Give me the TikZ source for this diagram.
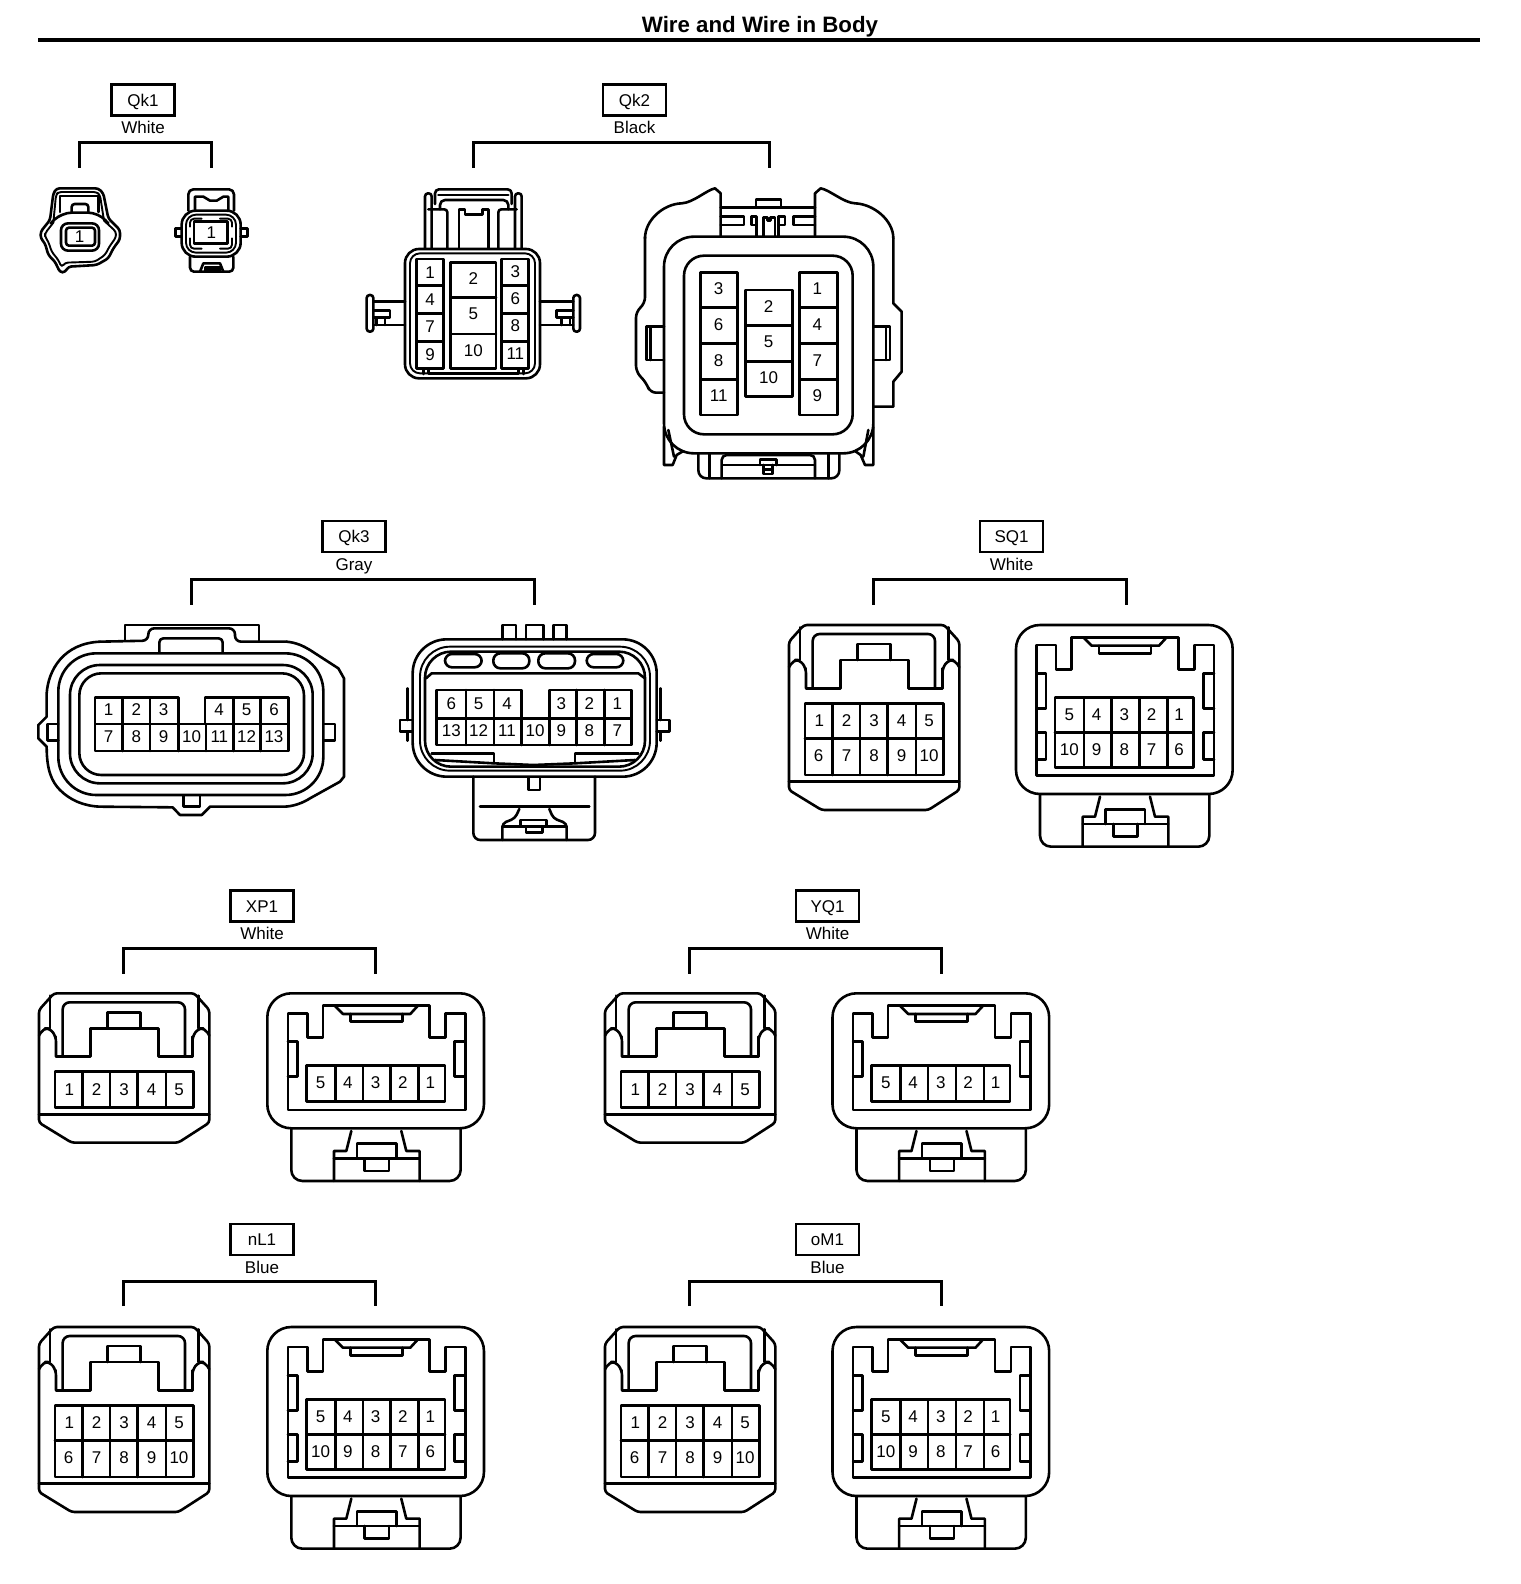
\documentclass[tikz,border=0pt]{standalone}
\usepackage{fontspec}
\setmainfont{Liberation Sans}
\newcounter{pn}
\tikzset{
  ln/.style={line width=2.6pt,line join=round,line cap=round},
  thinln/.style={line width=1.9pt,line join=round,line cap=round},
  zoomed/.style={x=0.33333pt,y=-0.33333pt},
  pintext/.style={inner sep=0pt,font=\fontsize{17}{17}\selectfont},
  tagbox/.style={draw,line width=2.6pt,minimum width=63pt,minimum height=31pt,inner sep=0pt,text height=12.2pt,text depth=0pt,font=\fontsize{17}{17}\selectfont},
  coltext/.style={inner sep=0pt,text height=12.2pt,text depth=0pt,font=\fontsize{17}{17}\selectfont},
  bracket/.style={line width=3pt,line join=miter},
}
\newcommand\pinlab[3]{\stepcounter{pn}\node[pintext] (pin\thepn) at (#1,#2) {#3};}
% label block: name, text, colour, cx, box y, left x, right x, bar y
\newcommand\tagblock[8]{%
  \node[tagbox] (#1) at (#4,#5) {#2};
  \node[coltext] (#1c) at (#4,#5+27.5) {#3};
  \coordinate (#1m) at (#4,#8);
  \coordinate (#1l) at (#6,#8+25);
  \coordinate (#1r) at (#7,#8+25);
  \draw[bracket] (#1l) |- (#1m) -| (#1r);
}
% type A connector
\newcommand\ConA[3]{%
\begin{scope}[shift={(#1,#2)},zoomed]
  \ifnum#3=1 \def\S{107}\else\def\S{0}\fi
  \draw[ln,rounded corners=3pt] (27,95) -- (72,45) -- (493,45) -- (538,95) -- (538,{540-\S}) -- (445,{600-\S}) -- (125,{600-\S}) -- (27,{540-\S}) -- cycle;
  \draw[ln] (27,{515-\S}) -- (538,{515-\S});
  \draw[ln,rounded corners=5pt] (27,172) -- (40,150) -- (60,150) -- (78,175) -- (78,235);
  \draw[ln] (78,175) -- (78,235) -- (182,235) -- (182,150) -- (385,150) -- (385,235) -- (487,235) -- (487,175);
  \draw[ln,rounded corners=5pt] (487,235) -- (487,175) -- (505,150) -- (525,150) -- (538,172);
  \draw[ln] (60,52) -- (60,150) (505,52) -- (505,150);
  \draw[ln,rounded corners=7pt] (98,235) -- (98,72) -- (465,72) -- (465,235);
  \draw[ln] (232,150) -- (232,102) -- (332,102) -- (332,150);
  \draw[ln] (75,280) rectangle (490,{495-\S});
  \foreach \x in {158,240,323,408} \draw[ln] (\x,280) -- (\x,{495-\S});
  \foreach \x/\t in {118,200/2,282/3,365/4,447/5} {}
  \foreach \x/\t in {118/1,200/2,282/3,365/4,447/5} \pinlab{\x}{333}{\t};
  \ifnum#3=2
    \draw[ln] (75,385) -- (490,385);
    \foreach \x/\t in {116/6,200/7,282/8,365/9,447/10} \pinlab{\x}{438}{\t};
  \fi
\end{scope}}
% type B connector
\newcommand\ConB[3]{%
\begin{scope}[shift={(#1,#2)},zoomed]
  \ifnum#3=1 \def\S{102}\else\def\S{0}\fi
  \draw[ln,rounded corners=24pt] (708,45) rectangle (1358,{552-\S});
  \draw[ln] (770,105) -- (828,105) -- (828,178) -- (875,178) -- (875,82) -- (1195,82) -- (1195,178) -- (1243,178) -- (1243,105) -- (1302,105) -- (1302,{497-\S}) -- (770,{497-\S}) -- cycle;
  \draw[ln] (910,82) -- (935,107) -- (1137,107) -- (1160,82);
  \draw[ln] (957,107) -- (957,130) -- (1113,130) -- (1113,107);
  \draw[ln] (770,190) -- (798,190) -- (798,295) -- (770,295);
  \draw[ln] (1302,190) -- (1270,190) -- (1270,295) -- (1302,295);
  \draw[ln] (825,262) rectangle (1241,{472-\S});
  \foreach \x in {912,995,1078,1162} \draw[ln] (\x,262) -- (\x,{472-\S});
  \foreach \x/\t in {868/5,950/4,1033/3,1115/2,1197/1} \pinlab{\x}{313}{\t};
  \ifnum#3=2
    \draw[ln] (825,367) -- (1241,367);
    \draw[ln] (770,368) -- (798,368) -- (798,448) -- (770,448);
    \draw[ln] (1302,368) -- (1270,368) -- (1270,448) -- (1302,448);
    \foreach \x/\t in {868/10,950/9,1033/8,1115/7,1197/6} \pinlab{\x}{418}{\t};
  \fi
  \draw[ln,rounded corners=11pt] (780,{555-\S}) -- (780,{710-\S}) -- (1288,{710-\S}) -- (1288,{555-\S});
  \draw[ln] (960,{560-\S}) -- (945,{620-\S}) -- (908,{620-\S}) -- (908,{710-\S});
  \draw[ln] (1110,{560-\S}) -- (1125,{620-\S}) -- (1165,{620-\S}) -- (1165,{710-\S});
  \draw[ln] (908,{642-\S}) -- (1165,{642-\S});
  \draw[ln] (977,{642-\S}) -- (977,{598-\S}) -- (1095,{598-\S}) -- (1095,{642-\S});
  \draw[ln] (1000,{642-\S}) -- (1000,{680-\S}) -- (1073,{680-\S}) -- (1073,{642-\S});
\end{scope}}
\begin{document}
\begin{tikzpicture}[x=1pt,y=-1pt]
\path[use as bounding box,fill=white] (0,0) rectangle (1520,1584);
% title
\node[inner sep=0pt,font=\bfseries\fontsize{22.3}{23}\selectfont] (title) at (760,26.5) {Wire and Wire in Body};
\coordinate (ruleL) at (38,40);
\coordinate (ruleR) at (1480,40);
\draw[line width=4pt] (ruleL) -- (ruleR);
% labels and brackets
\tagblock{qka}{Qk1}{White}{143}{100}{79}{211}{142.5}
\tagblock{qkb}{Qk2}{Black}{634.5}{100}{473}{769.5}{142.5}
\tagblock{qkc}{Qk3}{Gray}{354}{536.5}{191}{534.5}{579.5}
\tagblock{sqa}{SQ1}{White}{1011.5}{536.5}{873.5}{1126}{579.5}
\tagblock{xpa}{XP1}{White}{262}{906}{123}{375.5}{948.5}
\tagblock{yqa}{YQ1}{White}{827.5}{906}{689.5}{941.5}{948.5}
\tagblock{nla}{nL1}{Blue}{262}{1239.5}{123}{375.5}{1281}
\tagblock{oma}{oM1}{Blue}{827.5}{1239.5}{689.5}{941.5}{1281}
% Qk1 left
\begin{scope}[shift={(30,180)},zoomed]
  \draw[ln,rounded corners=3pt] (80,25) -- (205,25) -- (220,40) -- (235,115) -- (270,150) -- (270,178) -- (250,205) -- (235,235) -- (200,255) -- (115,260) -- (105,277) -- (90,277) -- (75,245) -- (55,225) -- (45,190) -- (32,175) -- (32,155) -- (60,120) -- (70,40) -- cycle;
  \draw[thinln,rounded corners=3pt] (222,122) -- (258,155) -- (258,172) -- (238,200) -- (225,225) -- (195,245) -- (105,248) -- (95,262) -- (85,240) -- (65,215) -- (55,185) -- (45,170) -- (45,160) -- (70,128);
  \draw[thinln,rounded corners=3pt] (70,128) -- (78,45) -- (85,36) -- (200,36) -- (210,45) -- (222,122);
  \draw[ln,rounded corners=10pt] (62,130) -- (95,98) -- (205,98) -- (235,130);
  \draw[ln] (90,96) -- (90,48) -- (205,48) -- (205,96);
  \draw[ln,rounded corners=3pt] (125,96) -- (125,72) -- (175,72) -- (175,96);
  \draw[ln,rounded corners=7pt] (93,130) rectangle (207,212);
  \draw[ln,rounded corners=3pt] (108,143) rectangle (195,197);
  \pinlab{149}{170}{1}
\end{scope}
% Qk1 right
\begin{scope}[shift={(170,180)},zoomed]
  \draw[ln,rounded corners=5pt] (55,92) -- (55,28) -- (192,28) -- (192,92);
  \draw[ln] (75,90) -- (75,50) -- (100,50) -- (120,62) -- (140,62) -- (160,50) -- (175,50) -- (175,90);
  \draw[ln,rounded corners=14pt] (35,92) rectangle (212,230);
  \draw[thinln,rounded corners=10pt] (48,104) rectangle (198,218);
  \draw[thinln,rounded corners=4pt] (60,140) -- (60,116) -- (95,116);
  \draw[thinln,rounded corners=4pt] (150,116) -- (186,116) -- (186,140);
  \draw[thinln,rounded corners=4pt] (60,175) -- (60,206) -- (95,206);
  \draw[thinln,rounded corners=4pt] (150,206) -- (186,206) -- (186,175);
  \draw[ln] (72,125) rectangle (172,190);
  \draw[ln] (35,145) -- (17,145) -- (17,170) -- (35,170);
  \draw[ln] (212,145) -- (232,145) -- (232,170) -- (212,170);
  \draw[ln,rounded corners=4pt] (60,230) -- (60,275) -- (190,275) -- (190,230);
  \draw[ln] (90,275) -- (100,250) -- (150,250) -- (160,275);
  \draw[ln,fill=black] (105,263) rectangle (150,272);
  \pinlab{124}{157}{1}
\end{scope}
% Qk2 left
\begin{scope}[shift={(360,180)},zoomed]
  \draw[ln,rounded corners=3pt] (195,205) -- (195,40) -- (215,40) -- (215,205);
  \draw[ln,rounded corners=3pt] (465,205) -- (465,40) -- (485,40) -- (485,205);
  \draw[ln,rounded corners=4pt] (225,72) -- (225,28) -- (455,28) -- (455,72);
  \draw[ln] (235,45) -- (445,45);
  \draw[ln,rounded corners=5pt] (240,88) -- (240,60) -- (445,60) -- (445,88);
  \draw[ln,rounded corners=3pt] (205,88) -- (262,88) -- (262,205);
  \draw[ln,rounded corners=3pt] (415,205) -- (415,88) -- (470,88);
  \draw[ln] (297,205) -- (297,88) -- (315,88) -- (315,103) -- (367,103) -- (367,88) -- (385,88) -- (385,205);
  \draw[ln,rounded corners=14pt] (135,207) rectangle (540,595);
  \draw[thinln,rounded corners=10pt] (150,220) rectangle (525,580);
  \draw[ln] (170,237) rectangle (250,565);
  \foreach \y in {317,400,485} \draw[ln] (170,\y) -- (250,\y);
  \draw[ln] (272,247) rectangle (408,565);
  \foreach \y in {352,462} \draw[ln] (272,\y) -- (408,\y);
  \draw[ln] (425,237) rectangle (505,565);
  \foreach \y in {317,400,485} \draw[ln] (425,\y) -- (505,\y);
  \draw[ln] (190,565) -- (190,582) (205,565) -- (205,580) -- (475,580) -- (475,565) (490,565) -- (490,582);
  \draw[ln,rounded corners=3pt] (20,345) rectangle (40,455);
  \draw[ln] (40,365) -- (135,365) (40,435) -- (135,435);
  \draw[ln] (40,392) -- (90,392) -- (90,412) -- (40,412) (50,412) -- (50,435) (75,412) -- (75,435);
  \draw[ln,rounded corners=3pt] (640,345) rectangle (660,455);
  \draw[ln] (540,365) -- (640,365) (540,435) -- (640,435);
  \draw[ln] (640,392) -- (590,392) -- (590,412) -- (640,412) (605,412) -- (605,435) (630,412) -- (630,435);
  \foreach \y/\t in {277/1,358/4,440/7,523/9} \pinlab{210}{\y}{\t};
  \foreach \y/\t in {274/3,356/6,438/8,522/11} \pinlab{466}{\y}{\t};
  \foreach \y/\t in {296/2,402/5,512/10} \pinlab{340}{\y}{\t};
\end{scope}
% Qk2 right
\begin{scope}[shift={(600,170)},zoomed]
  \draw[ln,rounded corners=6pt] (192,668) -- (150,668) -- (140,640) -- (108,605) -- (108,425) -- (135,400) -- (135,200);
  \draw[ln] (135,205) .. controls (135,150) and (190,102) .. (245,100) .. controls (280,98) and (320,60) .. (345,55) -- (362,70) -- (362,197);
  \draw[ln] (645,197) -- (645,70) -- (662,55) .. controls (690,60) and (730,98) .. (765,100) .. controls (820,102) and (880,150) .. (880,205);
  \draw[ln] (880,205) -- (880,400) -- (905,425) -- (905,605) -- (880,635) -- (880,710) -- (820,710);
  \draw[ln] (192,470) -- (140,470) -- (140,570) -- (192,570) (152,470) -- (152,570);
  \draw[ln] (820,470) -- (870,470) -- (870,570) -- (820,570) (858,470) -- (858,570);
  \draw[ln] (362,112) -- (645,112);
  \draw[ln] (362,140) -- (432,140) -- (432,165) -- (362,165);
  \draw[ln] (645,140) -- (580,140) -- (580,165) -- (645,165);
  \draw[ln] (468,112) -- (468,88) -- (543,88) -- (543,112);
  \draw[ln] (470,197) -- (470,140) -- (455,140) -- (455,165) -- (470,165);
  \draw[ln] (535,197) -- (535,140) -- (555,140) -- (555,165) -- (535,165);
  \draw[ln] (490,197) -- (490,142) -- (502,142) -- (502,152) -- (512,152) -- (512,142) -- (525,142) -- (525,197);
  \draw[ln,rounded corners=30pt] (192,200) rectangle (820,850);
  \draw[ln,rounded corners=20pt] (252,257) rectangle (758,793);
  \draw[ln] (302,308) rectangle (412,735);
  \foreach \y in {412,520,628} \draw[ln] (302,\y) -- (412,\y);
  \draw[ln] (437,360) rectangle (577,680);
  \foreach \y in {467,575} \draw[ln] (437,\y) -- (577,\y);
  \draw[ln] (598,308) rectangle (712,735);
  \foreach \y in {412,520,628} \draw[ln] (598,\y) -- (712,\y);
  \draw[ln] (192,770) -- (192,885) -- (218,885) -- (230,855) -- (250,843);
  \draw[ln] (205,780) -- (222,860);
  \draw[ln] (820,770) -- (820,885) -- (795,885) -- (782,855) -- (765,843);
  \draw[ln] (805,780) -- (790,860);
  \draw[ln,rounded corners=8pt] (295,850) -- (295,925) -- (718,925) -- (718,850);
  \draw[ln] (328,850) -- (328,925) (685,850) -- (685,925);
  \draw[ln,rounded corners=5pt] (365,925) -- (365,855) -- (645,855) -- (645,925);
  \draw[ln] (368,885) -- (642,885);
  \draw[ln] (480,885) -- (480,868) -- (530,868) -- (530,885);
  \draw[ln] (490,885) -- (490,912) -- (518,912) -- (518,885) (490,899) -- (518,899);
  \foreach \y/\t in {357/3,465/6,571/8,676/11} \pinlab{356}{\y}{\t};
  \foreach \y/\t in {410/2,516/5,624/10} \pinlab{506}{\y}{\t};
  \foreach \y/\t in {357/1,465/4,571/7,676/9} \pinlab{652}{\y}{\t};
\end{scope}
% Qk3 left
\begin{scope}[shift={(20,610)},zoomed]
  \draw[ln] (315,92) -- (315,45) -- (717,45) -- (717,95);
  \draw[ln,rounded corners=6pt] (240,95) -- (385,92) -- (385,55) -- (645,55) -- (645,95) -- (800,95);
  \draw[ln] (800,95) .. controls (830,98) and (850,108) .. (870,120) -- (955,175) -- (972,205) -- (972,500) -- (960,515) -- (870,565) .. controls (850,578) and (820,590) .. (790,590) -- (570,590) -- (545,615) -- (480,615) -- (458,592) -- (240,590) .. controls (190,588) and (150,570) .. (120,540) .. controls (95,515) and (80,480) .. (80,410) -- (55,385) -- (55,345) -- (80,320) -- (80,250) .. controls (85,180) and (130,100) .. (240,95);
  \draw[ln,rounded corners=38pt] (115,130) rectangle (910,555);
  \draw[ln,rounded corners=30pt] (150,165) rectangle (878,520);
  \draw[ln,rounded corners=22pt] (178,190) rectangle (852,495);
  \draw[ln,rounded corners=4pt] (418,128) -- (418,85) -- (608,85) -- (608,128);
  \draw[ln] (115,342) -- (82,342) -- (82,392) -- (115,392);
  \draw[ln] (912,342) -- (945,342) -- (945,392) -- (912,392);
  \draw[ln] (490,557) -- (490,590) -- (540,590) -- (540,557);
  \draw[ln] (225,262) rectangle (475,342);
  \draw[ln] (555,262) rectangle (805,342);
  \draw[ln] (225,342) rectangle (805,423);
  \foreach \x in {308,390,640,722} \draw[ln] (\x,262) -- (\x,423);
  \foreach \x in {475,558} \draw[ln] (\x,342) -- (\x,423);
  \foreach \x/\t in {266/1,349/2,431/3,597/4,680/5,762/6} \pinlab{\x}{298}{\t};
  \foreach \x/\t in {266/7,349/8,431/9,515/10,598/11,680/12,762/13} \pinlab{\x}{381}{\t};
\end{scope}
% Qk3 right
\begin{scope}[shift={(390,610)},zoomed]
  \draw[ln] (338,88) -- (338,45) -- (378,45) -- (378,88);
  \draw[ln] (408,88) -- (408,45) -- (460,45) -- (460,88);
  \draw[ln] (490,88) -- (490,45) -- (530,45) -- (530,88);
  \draw[ln,rounded corners=34pt] (68,88) rectangle (800,500);
  \draw[thinln,rounded corners=30pt] (90,110) rectangle (780,482);
  \draw[ln,rounded corners=26pt] (105,125) rectangle (765,470);
  \draw[ln,rounded corners=7pt] (165,132) rectangle (275,172);
  \draw[ln,rounded corners=7pt] (310,130) rectangle (418,175);
  \draw[ln,rounded corners=7pt] (445,130) rectangle (555,175);
  \draw[ln,rounded corners=7pt] (590,132) rectangle (700,172);
  \draw[ln] (108,205) -- (125,190) -- (745,190) -- (765,205);
  \draw[ln] (140,240) rectangle (395,325);
  \draw[ln] (478,240) rectangle (725,325);
  \draw[ln] (140,325) rectangle (725,405);
  \foreach \x in {228,312,560,643} \draw[ln] (\x,240) -- (\x,405);
  \foreach \x in {395,478} \draw[ln] (\x,325) -- (\x,405);
  \draw[ln] (125,430) -- (312,430) -- (312,460);
  \draw[ln] (745,430) -- (555,430) -- (555,460);
  \draw[ln] (135,450) -- (312,460) -- (430,465) -- (555,460) -- (735,450);
  \draw[ln] (68,330) -- (30,330) -- (30,365) -- (68,365);
  \draw[ln] (800,330) -- (838,330) -- (838,365) -- (800,365);
  \draw[ln] (52,330) -- (52,235) (52,365) -- (52,392);
  \draw[ln] (812,330) -- (812,235) (812,365) -- (812,392);
  \draw[ln,rounded corners=7pt] (250,500) -- (250,690) -- (615,690) -- (615,500);
  \draw[ln] (270,590) -- (598,590);
  \draw[ln] (415,505) -- (415,540) -- (450,540) -- (450,505);
  \draw[ln,rounded corners=4pt] (337,690) -- (337,640) -- (375,625) -- (388,597);
  \draw[ln,rounded corners=4pt] (478,597) -- (490,625) -- (530,640) -- (530,690);
  \draw[ln] (392,630) rectangle (470,650);
  \draw[ln] (337,650) -- (392,650) (470,650) -- (530,650);
  \draw[ln] (408,650) -- (408,668) -- (458,668) -- (458,650);
  \foreach \x/\t in {184/6,266/5,351/4,514/3,598/2,682/1} \pinlab{\x}{280}{\t};
  \foreach \x/\t in {184/13,266/12,351/11,435/10,514/9,598/8,682/7} \pinlab{\x}{363}{\t};
\end{scope}
% SQ1
\ConA{780}{610}{2}
\ConB{780}{610}{2}
% XP1
\ConA{30}{978.3}{1}
\ConB{31.3}{978.3}{1}
% YQ1
\ConA{596}{978.3}{1}
\ConB{596.5}{978.3}{1}
% nL1
\ConA{30}{1312}{2}
\ConB{31.3}{1312}{2}
% oM1
\ConA{596}{1312}{2}
\ConB{596.5}{1312}{2}
\end{tikzpicture}
\end{document}
